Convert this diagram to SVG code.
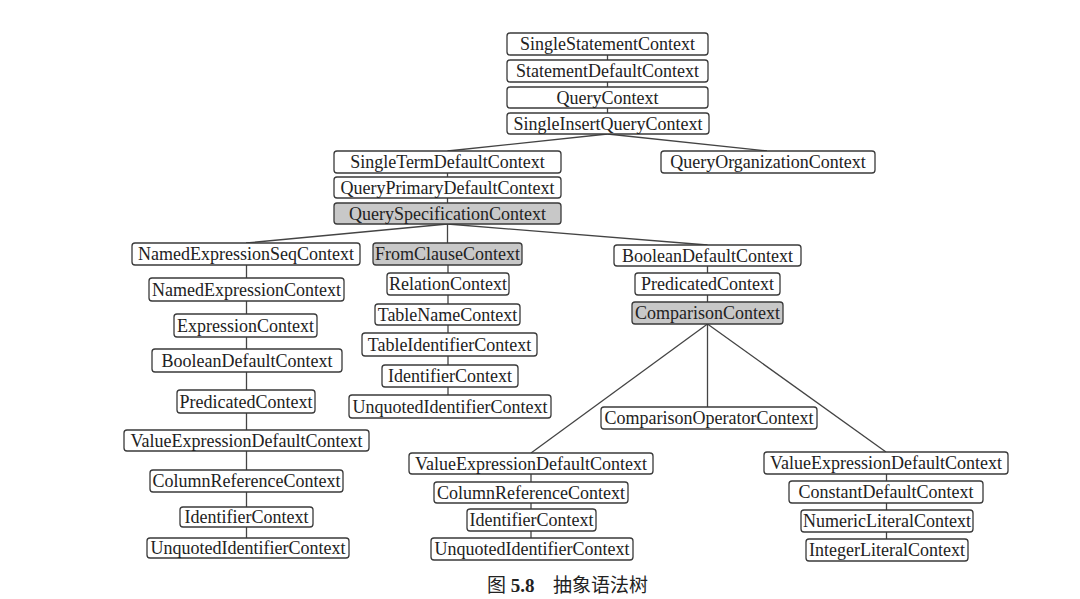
<svg xmlns="http://www.w3.org/2000/svg" width="1080" height="599" viewBox="0 0 1080 599">
<style>
.b{fill:#ffffff;stroke:#3a3a3a;stroke-width:1.3}
.g{fill:#c8c8c8;stroke:#3a3a3a;stroke-width:1.3}
.t{font-family:"Liberation Serif","Times New Roman",serif;font-size:18px;fill:#222;text-anchor:middle}
.c line{stroke:#444;stroke-width:1.3}
.cap{font-family:"Liberation Serif","Noto Sans CJK SC",serif;font-size:19px;fill:#222}
</style>
<rect width="1080" height="599" fill="#ffffff"/>
<g id="connectors" class="c">
<line x1="607.5" y1="55" x2="607.5" y2="60"/>
<line x1="607.5" y1="82" x2="607.5" y2="87"/>
<line x1="607.5" y1="108" x2="607.5" y2="113"/>
<line x1="607.5" y1="134" x2="447.5" y2="151"/>
<line x1="607.5" y1="134" x2="767" y2="151"/>
<line x1="447.5" y1="173" x2="447.5" y2="177"/>
<line x1="447.5" y1="198" x2="447.5" y2="203"/>
<line x1="447.5" y1="224" x2="246" y2="243"/>
<line x1="447.5" y1="224" x2="447.5" y2="243"/>
<line x1="447.5" y1="224" x2="707.5" y2="245"/>
<line x1="246.5" y1="265" x2="246.5" y2="278"/>
<line x1="246.5" y1="301" x2="246.5" y2="314"/>
<line x1="246.5" y1="337" x2="246.5" y2="349"/>
<line x1="246.5" y1="372" x2="246.5" y2="390"/>
<line x1="246.5" y1="413" x2="246.5" y2="430"/>
<line x1="246.5" y1="451" x2="246.5" y2="470"/>
<line x1="246.5" y1="492" x2="246.5" y2="507"/>
<line x1="246.5" y1="527" x2="246.5" y2="538"/>
<line x1="448" y1="265" x2="448" y2="273"/>
<line x1="448" y1="295" x2="448" y2="304"/>
<line x1="448" y1="325" x2="448" y2="333"/>
<line x1="448" y1="356" x2="448" y2="365"/>
<line x1="448" y1="387" x2="448" y2="395"/>
<line x1="707.5" y1="266" x2="707.5" y2="273"/>
<line x1="707.5" y1="295" x2="707.5" y2="302"/>
<line x1="707.5" y1="324" x2="531" y2="453"/>
<line x1="707.5" y1="324" x2="707.5" y2="407"/>
<line x1="707.5" y1="324" x2="886" y2="452"/>
<line x1="531" y1="474" x2="531" y2="482"/>
<line x1="531" y1="503" x2="531" y2="509"/>
<line x1="531" y1="531" x2="531" y2="538"/>
<line x1="886.5" y1="474" x2="886.5" y2="481"/>
<line x1="886.5" y1="503" x2="886.5" y2="510"/>
<line x1="886.5" y1="532" x2="886.5" y2="539"/>
</g>
<g id="n1"><rect class="b" x="507" y="33" width="201" height="22" rx="3"/><text class="t" x="607.5" y="50">SingleStatementContext</text></g>
<g id="n2"><rect class="b" x="507" y="60" width="201" height="22" rx="3"/><text class="t" x="607.5" y="77">StatementDefaultContext</text></g>
<g id="n3"><rect class="b" x="507" y="87" width="201" height="21" rx="3"/><text class="t" x="607.5" y="103.5">QueryContext</text></g>
<g id="n4"><rect class="b" x="507" y="113" width="202" height="21" rx="3"/><text class="t" x="608" y="129.5">SingleInsertQueryContext</text></g>
<g id="n5"><rect class="b" x="334" y="151" width="227" height="22" rx="3"/><text class="t" x="447.5" y="168">SingleTermDefaultContext</text></g>
<g id="n6"><rect class="b" x="334" y="177" width="227" height="21" rx="3"/><text class="t" x="447.5" y="193.5">QueryPrimaryDefaultContext</text></g>
<g id="n7"><rect class="g" x="334" y="203" width="227" height="21" rx="3"/><text class="t" x="447.5" y="219.5">QuerySpecificationContext</text></g>
<g id="n8"><rect class="b" x="661" y="151" width="214" height="22" rx="3"/><text class="t" x="768" y="168">QueryOrganizationContext</text></g>
<g id="n9"><rect class="b" x="132" y="243" width="228" height="22" rx="3"/><text class="t" x="246" y="260">NamedExpressionSeqContext</text></g>
<g id="n10"><rect class="b" x="149" y="278" width="195" height="23" rx="3"/><text class="t" x="246.5" y="295.5">NamedExpressionContext</text></g>
<g id="n11"><rect class="b" x="174" y="314" width="143" height="23" rx="3"/><text class="t" x="245.5" y="331.5">ExpressionContext</text></g>
<g id="n12"><rect class="b" x="152" y="349" width="190" height="23" rx="3"/><text class="t" x="247" y="366.5">BooleanDefaultContext</text></g>
<g id="n13"><rect class="b" x="177" y="390" width="138" height="23" rx="3"/><text class="t" x="246" y="407.5">PredicatedContext</text></g>
<g id="n14"><rect class="b" x="124" y="430" width="245" height="21" rx="3"/><text class="t" x="246.5" y="446.5">ValueExpressionDefaultContext</text></g>
<g id="n15"><rect class="b" x="150" y="470" width="193" height="22" rx="3"/><text class="t" x="246.5" y="487">ColumnReferenceContext</text></g>
<g id="n16"><rect class="b" x="180" y="507" width="133" height="20" rx="3"/><text class="t" x="246.5" y="523">IdentifierContext</text></g>
<g id="n17"><rect class="b" x="147" y="538" width="202" height="20" rx="3"/><text class="t" x="248" y="554">UnquotedIdentifierContext</text></g>
<g id="n18"><rect class="g" x="373" y="243" width="149" height="22" rx="3"/><text class="t" x="447.5" y="260">FromClauseContext</text></g>
<g id="n19"><rect class="b" x="387" y="273" width="122" height="22" rx="3"/><text class="t" x="448" y="290">RelationContext</text></g>
<g id="n20"><rect class="b" x="375" y="304" width="145" height="21" rx="3"/><text class="t" x="447.5" y="320.5">TableNameContext</text></g>
<g id="n21"><rect class="b" x="362" y="333" width="175" height="23" rx="3"/><text class="t" x="449.5" y="350.5">TableIdentifierContext</text></g>
<g id="n22"><rect class="b" x="382" y="365" width="136" height="22" rx="3"/><text class="t" x="450" y="382">IdentifierContext</text></g>
<g id="n23"><rect class="b" x="349" y="395" width="202" height="23" rx="3"/><text class="t" x="450" y="412.5">UnquotedIdentifierContext</text></g>
<g id="n24"><rect class="b" x="614" y="245" width="187" height="21" rx="3"/><text class="t" x="707.5" y="261.5">BooleanDefaultContext</text></g>
<g id="n25"><rect class="b" x="635" y="273" width="145" height="22" rx="3"/><text class="t" x="707.5" y="290">PredicatedContext</text></g>
<g id="n26"><rect class="g" x="632" y="302" width="151" height="22" rx="3"/><text class="t" x="707.5" y="319">ComparisonContext</text></g>
<g id="n27"><rect class="b" x="601" y="407" width="216" height="22" rx="3"/><text class="t" x="709" y="424">ComparisonOperatorContext</text></g>
<g id="n28"><rect class="b" x="409" y="453" width="244" height="21" rx="3"/><text class="t" x="531" y="469.5">ValueExpressionDefaultContext</text></g>
<g id="n29"><rect class="b" x="434" y="482" width="194" height="21" rx="3"/><text class="t" x="531" y="498.5">ColumnReferenceContext</text></g>
<g id="n30"><rect class="b" x="467" y="509" width="129" height="22" rx="3"/><text class="t" x="531.5" y="526">IdentifierContext</text></g>
<g id="n31"><rect class="b" x="431" y="538" width="202" height="22" rx="3"/><text class="t" x="532" y="555">UnquotedIdentifierContext</text></g>
<g id="n32"><rect class="b" x="764" y="452" width="244" height="22" rx="3"/><text class="t" x="886" y="469">ValueExpressionDefaultContext</text></g>
<g id="n33"><rect class="b" x="789" y="481" width="194" height="22" rx="3"/><text class="t" x="886" y="498">ConstantDefaultContext</text></g>
<g id="n34"><rect class="b" x="801" y="510" width="172" height="22" rx="3"/><text class="t" x="887" y="527">NumericLiteralContext</text></g>
<g id="n35"><rect class="b" x="806" y="539" width="162" height="22" rx="3"/><text class="t" x="887" y="556">IntegerLiteralContext</text></g>
<g id="caption">
<text class="cap" x="487" y="592">图 <tspan font-weight="bold">5.8</tspan></text>
<text class="cap" x="553" y="592" style="font-family:'Noto Sans CJK SC',sans-serif">抽象语法树</text>
</g>
</svg>
